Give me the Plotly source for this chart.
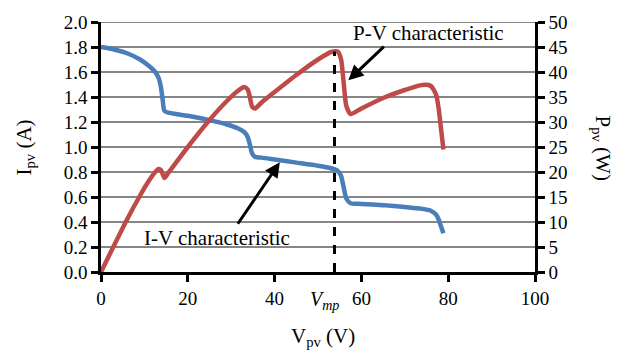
import plotly.graph_objects as go

# PV array measurements under partial shading
v_iv = [0, 3, 6, 9, 11, 12.5, 13.3, 13.8, 14.2, 14.6, 15.5, 20, 25, 29, 31.5, 33,
        33.8, 34.3, 34.8, 35.5, 37, 40, 45, 50, 53, 54.5, 55.3, 55.9, 56.5, 57.5,
        60, 65, 70, 74, 76, 77.2, 77.8, 78.3, 78.9]
i_pv = [1.80, 1.78, 1.75, 1.70, 1.65, 1.60, 1.55, 1.48, 1.38, 1.29, 1.275, 1.25,
        1.215, 1.18, 1.15, 1.12, 1.08, 1.02, 0.95, 0.92, 0.915, 0.90, 0.875, 0.85,
        0.83, 0.81, 0.77, 0.68, 0.59, 0.55, 0.545, 0.535, 0.52, 0.505, 0.49, 0.46,
        0.42, 0.37, 0.31]

v_pv = [0, 3, 6, 9, 11, 12.5, 13.3, 13.8, 14.2, 14.6, 15.5, 20, 25, 29, 31.5, 33,
        33.8, 34.3, 34.8, 35.5, 37, 40, 45, 50, 53, 54.5, 55.3, 55.9, 56.5, 57.5,
        60, 65, 70, 74, 76, 77.2, 77.8, 78.3, 78.9]
p_pv = [0, 5.3, 10.5, 15.3, 18.2, 20.0, 20.6, 20.4, 19.6, 18.8, 19.8, 25.0, 30.4,
        34.2, 36.2, 37.0, 36.5, 35.0, 33.1, 32.7, 33.9, 36.0, 39.4, 42.5, 44.0,
        44.1, 42.6, 38.0, 33.3, 31.6, 32.7, 34.8, 36.4, 37.4, 37.2, 35.5, 32.7,
        29.0, 24.5]

v_mp = 53.8
p_mp = 44.1

x_ticks = [0, 20, 40, 60, 80, 100]
i_ticks = [0.0, 0.2, 0.4, 0.6, 0.8, 1.0, 1.2, 1.4, 1.6, 1.8, 2.0]
p_ticks = [0, 5, 10, 15, 20, 25, 30, 35, 40, 45, 50]

FONT = "Liberation Serif"
BLUE = "#4A7EBB"
RED = "#BE4B48"

W, H = 626, 357
ML, MR, MT, MB = 101, 91, 13, 85
PW, PH = W - ML - MR, H - MT - MB


def px_to_paper(px, py):
    return (px - ML) / PW, 1 - (py - MT) / PH


fig = go.Figure()

fig.add_trace(go.Scatter(x=v_iv, y=i_pv, mode="lines", yaxis="y",
                         line=dict(color=BLUE, width=4.5, shape="spline", smoothing=0.6),
                         showlegend=False))
fig.add_trace(go.Scatter(x=v_pv, y=p_pv, mode="lines", yaxis="y2",
                         line=dict(color=RED, width=4.5, shape="spline", smoothing=0.6),
                         showlegend=False))

# horizontal gridlines
for t in i_ticks[1:]:
    fig.add_shape(type="line", xref="x", yref="y", x0=0, x1=100, y0=t, y1=t,
                  line=dict(color="#868686", width=2), layer="below")

# maximum power point marker
fig.add_shape(type="line", xref="x", yref="y2", x0=v_mp, x1=v_mp, y0=0, y1=p_mp,
              line=dict(color="black", width=3, dash="dash"))

layout_ann = []


def text_at(text, px, py, size=21, angle=0):
    xp, yp = px_to_paper(px, py)
    layout_ann.append(dict(text=text, x=xp, y=yp, xref="paper", yref="paper",
                           xanchor="center", yanchor="middle", textangle=angle,
                           showarrow=False,
                           font=dict(family=FONT, size=size, color="black")))


text_at("P-V characteristic", 428, 24)
text_at("I-V characteristic", 217, 237)

# arrows pointing at each curve
layout_ann.append(dict(text="", x=57.0, y=1.534, xref="x", yref="y",
                       ax=37, ay=-35, showarrow=True, arrowhead=2, arrowsize=1,
                       arrowwidth=3, arrowcolor="black"))
layout_ann.append(dict(text="", x=41.2, y=0.878, xref="x", yref="y",
                       ax=-43, ay=63, showarrow=True, arrowhead=2, arrowsize=1,
                       arrowwidth=3, arrowcolor="black"))

# V_mp label under the dashed line
layout_ann.append(dict(text="<i>V</i><sub><i>mp</i></sub>", x=51.6, y=0, xref="x", yref="y",
                       xanchor="center", yanchor="top", yshift=-14, showarrow=False,
                       font=dict(family=FONT, size=20, color="black")))

# axis titles
text_at("V<sub>pv</sub> (V)", 323, 339)
text_at("I<sub>pv</sub> (A)", 25, 143, angle=-90)
text_at("P<sub>pv</sub> (W)", 602, 143, angle=90)

axis_common = dict(showline=True, linecolor="black", linewidth=2.5, ticks="outside",
                   ticklen=7, tickwidth=2.5, tickcolor="black", showgrid=False,
                   zeroline=False, tickfont=dict(family=FONT, size=19, color="black"))

fig.update_layout(
    width=W, height=H,
    margin=dict(l=ML, r=MR, t=MT, b=MB),
    paper_bgcolor="white", plot_bgcolor="white",
    xaxis=dict(range=[0, 100], tickvals=x_ticks, ticktext=[str(v) for v in x_ticks],
               **axis_common),
    yaxis=dict(range=[0, 2.0], tickvals=i_ticks, ticktext=[f"{v:.1f}" for v in i_ticks],
               **axis_common),
    yaxis2=dict(range=[0, 50], tickvals=p_ticks, ticktext=[str(v) for v in p_ticks],
                overlaying="y", side="right", **axis_common),
    annotations=layout_ann,
)

fig.write_html("out.html")
